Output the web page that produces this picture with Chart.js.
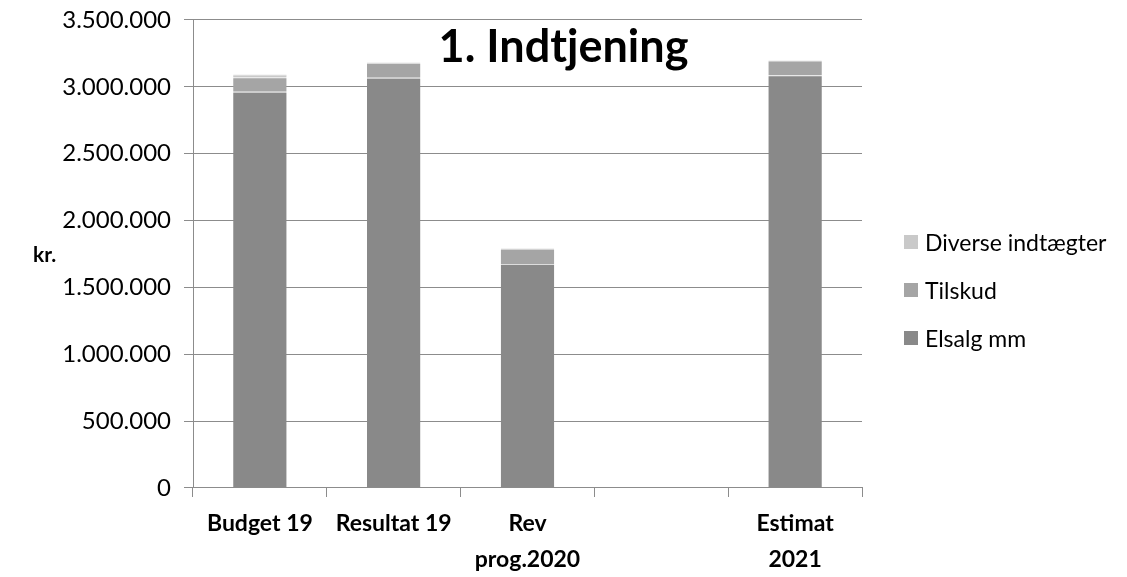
<!DOCTYPE html>
<html><head><meta charset="utf-8">
<script src="https://cdn.jsdelivr.net/npm/chart.js@4/dist/chart.umd.min.js"></script>
<style>
html,body{margin:0;padding:0;background:#fff;}
#wrap{position:relative;width:1127px;height:577px;font-family:Lato,"Open Sans",sans-serif;}
#title{position:absolute;left:0;width:1127px;top:18px;text-align:center;font-weight:bold;font-size:45px;line-height:54px;color:#000;}
#ytitle{position:absolute;left:33px;top:241px;font-weight:bold;font-size:21px;color:#000;}
#legend{position:absolute;left:904px;top:218px;font-size:23px;color:#000;}
#legend div{display:flex;align-items:center;height:48px;}
#legend i{display:inline-block;width:14px;height:14px;margin-right:7px;}
</style></head>
<body><div id="wrap"><canvas id="c" width="1127" height="577"></canvas>
<div id="title">1. Indtjening</div>
<div id="ytitle">kr.</div>
<div id="legend"></div></div>
<script>
const categories = ['Budget 19', 'Resultat 19', ['Rev', 'prog.2020'], '', ['Estimat', '2021']];
const elsalg = [2964000, 3068000, 1675000, null, 3086000];
const tilskud = [107000, 110000, 115000, null, 110000];
const diverse = [22000, 3000, 2000, null, 2000];
const seriesNames = ['Elsalg mm', 'Tilskud', 'Diverse indtægter'];
const seriesColors = ['#898989', '#a5a5a5', '#c9c9c9'];
const yTicks = [0, 500000, 1000000, 1500000, 2000000, 2500000, 3000000, 3500000];

const font = "Lato, 'Open Sans', sans-serif";
const fmt = v => v.toLocaleString('de-DE');
const data = [elsalg, tilskud, diverse];
const chart = new Chart(document.getElementById('c'), {
  type: 'bar',
  data: {
    labels: categories,
    datasets: seriesNames.map((n, i) => ({
      label: n, data: data[i], backgroundColor: seriesColors[i],
      borderColor: '#dcdcdc', borderWidth: {top: 1, left: 0, right: 0, bottom: 0}, borderSkipped: false,
      barPercentage: 0.4, categoryPercentage: 1.0
    }))
  },
  options: {
    responsive: false, animation: false,
    layout: {padding: {left: 0, right: 265, top: 12, bottom: 0}},
    plugins: {legend: {display: false}, title: {display: false}, tooltip: {enabled: false}},
    scales: {
      x: {
        stacked: true, offset: true,
        grid: {offset: true, drawOnChartArea: false, drawTicks: true, tickLength: 9, color: '#8c8c8c', lineWidth: 1},
        border: {display: true, color: '#8c8c8c', width: 1},
        ticks: {color: '#000', font: {family: font, size: 23, weight: 'bold', lineHeight: 1.55}, padding: 9, maxRotation: 0, autoSkip: false},
        afterFit: s => { s.height = 89; }
      },
      y: {
        stacked: true, min: 0, max: 3500000,
        afterBuildTicks: s => { s.ticks = yTicks.map(v => ({value: v})); },
        grid: {color: '#8c8c8c', lineWidth: 1, tickLength: 9, drawTicks: true},
        border: {display: true, color: '#8c8c8c', width: 1},
        ticks: {color: '#000', font: {family: font, size: 24, lineHeight: 0.58}, padding: 13, callback: v => fmt(v)},
        afterFit: s => { s.width = 193; }
      }
    }
  }
});
const lg = document.getElementById('legend');
for (let i = seriesNames.length - 1; i >= 0; i--) {
  const d = document.createElement('div');
  d.innerHTML = '<i style="background:' + seriesColors[i] + '"></i>' + seriesNames[i];
  lg.appendChild(d);
}
</script></body></html>
